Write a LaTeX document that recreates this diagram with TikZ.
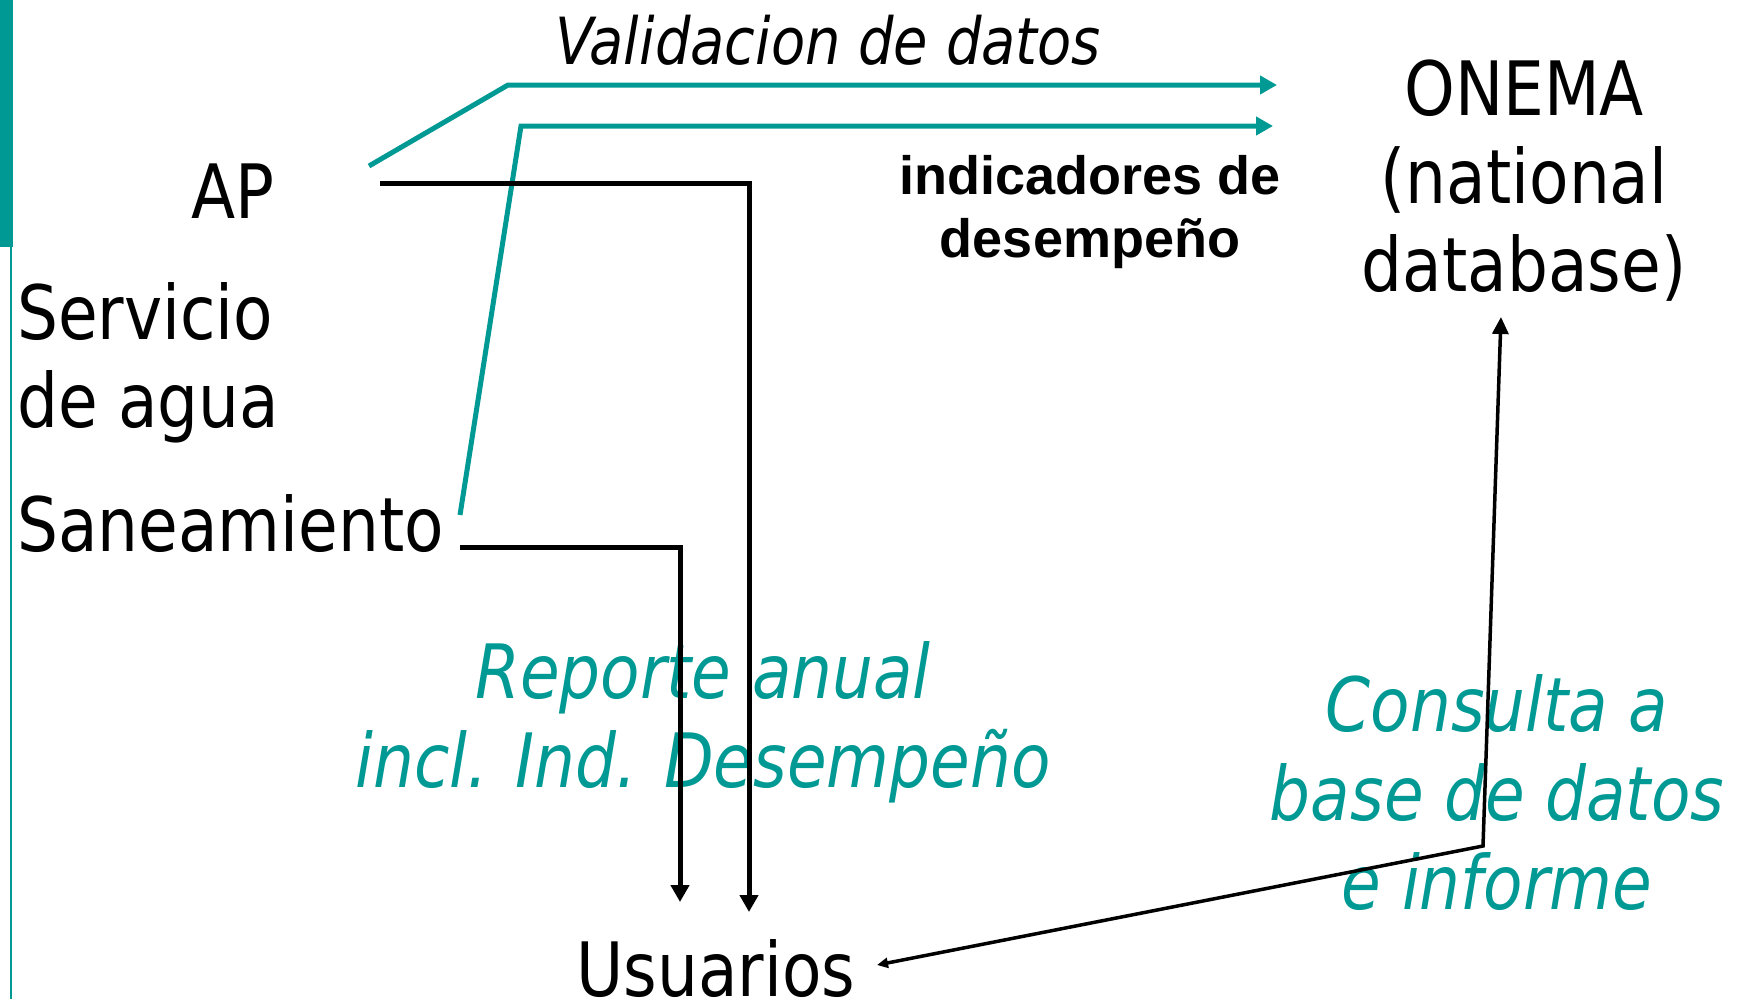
\documentclass[tikz,border=0pt]{standalone}
\usepackage{fontspec}
\setmainfont{DejaVu Sans}[FakeStretch=0.86]
\newfontfamily\arialbold{Liberation Sans}
\usetikzlibrary{arrows.meta}
\definecolor{onemateal}{RGB}{0,153,148}
\tikzset{>={Triangle[length=17pt,width=18pt]}}
\tikzset{
    txt/.style={inner sep=0pt,font=\fontsize{75}{88}\selectfont},
    tealtxt/.style={inner sep=0pt,text=onemateal,font=\fontsize{75}{89}\selectfont\itshape},
    smalltxt/.style={inner sep=0pt,font=\fontsize{65}{75}\selectfont\itshape},
    boldtxt/.style={inner sep=0pt,font=\arialbold\bfseries\fontsize{54}{63}\selectfont},
    tealline/.style={draw=onemateal,line width=5pt,->},
    blackline/.style={line width=5pt,->},
    queryline/.style={line width=3.5pt,arrows={Triangle[length=11pt,width=10pt]-Triangle[length=17pt,width=16pt]}},
}

\begin{document}
\begin{tikzpicture}[x=1pt,y=-1pt]
    \useasboundingbox (0,0) rectangle (1738,999);
    % side bar
    \fill[onemateal] (0,0) rectangle (13,247);
    \fill[onemateal] (10,247) rectangle (12,999);

    % base anchor of a multi-line node = baseline of its last line
    \node[txt,anchor=base east] (ap) at (275,218) {AP};
    \node[txt,anchor=base west,align=left] (servicio) at (17,427) {Servicio\\de agua};
    \node[txt,anchor=base west] (saneamiento) at (17,551) {Saneamiento};
    \node[txt,anchor=base,align=center] (onema) at (1524,291) {ONEMA\\(national\\database)};
    \node[txt,anchor=base] (usuarios) at (716,996) {Usuarios};

    \node[smalltxt,anchor=base] (validacion) at (828,64) {Validacion de datos};
    \node[boldtxt,anchor=base,align=center] (indicadores) at (1090,257) {indicadores de\\desempeño};
    \node[tealtxt,anchor=base,align=center] (reporte) at (703,787) {Reporte anual\\incl. Ind. Desempeño};
    \node[tealtxt,anchor=base,align=center] (consulta) at (1497,909) {Consulta a\\base de datos\\e informe};

    % bends and free ends
    \coordinate (ap-v) at (369,166);
    \coordinate (ap-vb) at (508,85);
    \coordinate (on-v) at (1277,85);
    \coordinate (sa-i) at (460,515);
    \coordinate (sa-ib) at (521,126);
    \coordinate (on-i) at (1273,126);
    \coordinate (ap-r) at (380,183);
    \coordinate (ap-rb) at (749,183);
    \coordinate (us-ap) at (749,912);
    \coordinate (sa-r) at (460,547);
    \coordinate (sa-rb) at (680,547);
    \coordinate (us-sa) at (680,902);
    \coordinate (us-q) at (877,965);
    \coordinate (qb) at (1483,846);
    \coordinate (on-q) at (1501,317);

    \draw[tealline] (ap-v) -- (ap-vb) -- (on-v);
    \draw[tealline] (sa-i) -- (sa-ib) -- (on-i);
    \draw[blackline] (ap-r) -- (ap-rb) -- (us-ap);
    \draw[blackline] (sa-r) -- (sa-rb) -- (us-sa);
    \draw[queryline] (us-q) -- (qb) -- (on-q);
\end{tikzpicture}
\end{document}
